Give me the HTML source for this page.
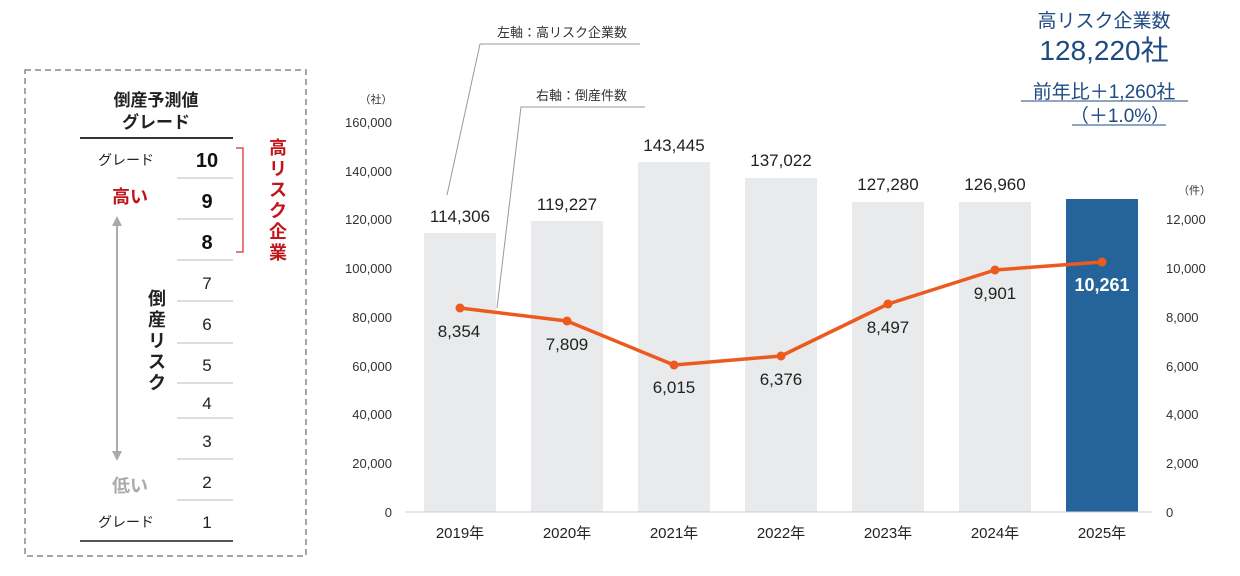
<!DOCTYPE html>
<html><head><meta charset="utf-8"><style>
html,body{margin:0;padding:0;background:#fff;}
svg{display:block;font-family:"Liberation Sans","Noto Sans CJK JP",sans-serif;}
</style></head><body>
<svg width="1240" height="576" viewBox="0 0 1240 576" xmlns="http://www.w3.org/2000/svg">
<!-- Left panel -->
<rect x="25" y="70" width="281" height="486" fill="none" stroke="#888" stroke-width="1.5" stroke-dasharray="6,4"/>
<text x="156" y="106" font-size="17" font-weight="bold" text-anchor="middle" fill="#222">倒産予測値</text>
<text x="156" y="128" font-size="17" font-weight="bold" text-anchor="middle" fill="#222">グレード</text>
<line x1="80" y1="138" x2="233" y2="138" stroke="#333" stroke-width="2"/>
<g stroke="#bbb" stroke-width="1">
<line x1="177" y1="178" x2="233" y2="178"/><line x1="177" y1="219" x2="233" y2="219"/>
<line x1="177" y1="260" x2="233" y2="260"/><line x1="177" y1="301" x2="233" y2="301"/>
<line x1="177" y1="343" x2="233" y2="343"/><line x1="177" y1="383" x2="233" y2="383"/>
<line x1="177" y1="418" x2="233" y2="418"/><line x1="177" y1="459" x2="233" y2="459"/>
<line x1="177" y1="500" x2="233" y2="500"/>
</g>
<line x1="80" y1="541" x2="233" y2="541" stroke="#555" stroke-width="2"/>
<g font-size="20" font-weight="bold" fill="#111" text-anchor="middle">
<text x="207" y="167">10</text><text x="207" y="208">9</text><text x="207" y="249">8</text>
</g>
<g font-size="17" fill="#222" text-anchor="middle">
<text x="207" y="289">7</text><text x="207" y="330">6</text><text x="207" y="371">5</text>
<text x="207" y="409">4</text><text x="207" y="447">3</text><text x="207" y="488">2</text><text x="207" y="528">1</text>
</g>
<text x="126" y="165" font-size="14" text-anchor="middle" fill="#222">グレード</text>
<text x="126" y="527" font-size="14" text-anchor="middle" fill="#222">グレード</text>
<text x="130" y="203" font-size="18" font-weight="bold" text-anchor="middle" fill="#c0161c">高い</text>
<text x="130" y="492" font-size="18" font-weight="bold" text-anchor="middle" fill="#aaa">低い</text>
<line x1="117" y1="226" x2="117" y2="452" stroke="#aaa" stroke-width="2"/>
<polygon points="117,216 112,226 122,226" fill="#aaa"/>
<polygon points="117,461 112,451 122,451" fill="#aaa"/>
<g font-size="18" font-weight="bold" fill="#222" text-anchor="middle">
<text x="157" y="305">倒</text><text x="157" y="326">産</text><text x="157" y="347">リ</text><text x="157" y="368">ス</text><text x="157" y="389">ク</text>
</g>
<polyline points="236,148 243,148 243,252 236,252" fill="none" stroke="#e05050" stroke-width="1.5"/>
<g font-size="18" font-weight="bold" fill="#c0161c" text-anchor="middle">
<text x="278" y="154">高</text><text x="278" y="175">リ</text><text x="278" y="196">ス</text><text x="278" y="217">ク</text><text x="278" y="238">企</text><text x="278" y="259">業</text>
</g>
<!-- Axes -->
<g font-size="13" fill="#333" text-anchor="end">
<text x="376" y="103" font-size="11" text-anchor="middle">（社）</text>
<text x="392" y="127">160,000</text><text x="392" y="176">140,000</text><text x="392" y="224">120,000</text>
<text x="392" y="273">100,000</text><text x="392" y="322">80,000</text><text x="392" y="371">60,000</text>
<text x="392" y="419">40,000</text><text x="392" y="468">20,000</text><text x="392" y="517">0</text>
</g>
<g font-size="13" fill="#333" text-anchor="start">
<text x="1178" y="194" font-size="11">（件）</text>
<text x="1166" y="224">12,000</text><text x="1166" y="273">10,000</text><text x="1166" y="322">8,000</text>
<text x="1166" y="371">6,000</text><text x="1166" y="419">4,000</text><text x="1166" y="468">2,000</text><text x="1166" y="517">0</text>
</g>
<!-- Bars -->
<g fill="#e8eaeb">
<rect x="424" y="233" width="72" height="279"/><rect x="531" y="221" width="72" height="291"/>
<rect x="638" y="162" width="72" height="350"/><rect x="745" y="178" width="72" height="334"/>
<rect x="852" y="202" width="72" height="310"/><rect x="959" y="202" width="72" height="310"/>
</g>
<rect x="1066" y="199" width="72" height="313" fill="#25649a"/>
<line x1="405" y1="512" x2="1152" y2="512" stroke="#ccc" stroke-width="1"/>
<g font-size="17" fill="#222" text-anchor="middle">
<text x="460" y="222">114,306</text><text x="567" y="210">119,227</text><text x="674" y="151">143,445</text>
<text x="781" y="166">137,022</text><text x="888" y="190">127,280</text><text x="995" y="190">126,960</text>
</g>
<g font-size="15" fill="#222" text-anchor="middle">
<text x="460" y="538">2019年</text><text x="567" y="538">2020年</text><text x="674" y="538">2021年</text>
<text x="781" y="538">2022年</text><text x="888" y="538">2023年</text><text x="995" y="538">2024年</text><text x="1102" y="538">2025年</text>
</g>
<!-- leader lines -->
<polyline points="447,195 480,44 640,44" fill="none" stroke="#999" stroke-width="1"/>
<polyline points="497,308 521,107 645,107" fill="none" stroke="#999" stroke-width="1"/>
<text x="497" y="37" font-size="13" fill="#333">左軸：高リスク企業数</text>
<text x="536" y="100" font-size="13" fill="#333">右軸：倒産件数</text>
<!-- line -->
<polyline points="460,308 567,321 674,365 781,356 888,304 995,270 1102,262" fill="none" stroke="#ec5a1f" stroke-width="3.5" stroke-linejoin="round"/>
<g fill="#ec5a1f">
<circle cx="460" cy="308" r="4.5"/><circle cx="567" cy="321" r="4.5"/><circle cx="674" cy="365" r="4.5"/>
<circle cx="781" cy="356" r="4.5"/><circle cx="888" cy="304" r="4.5"/><circle cx="995" cy="270" r="4.5"/><circle cx="1102" cy="262" r="4.5"/>
</g>
<g font-size="17" fill="#222" text-anchor="middle">
<text x="459" y="337">8,354</text><text x="567" y="350">7,809</text><text x="674" y="393">6,015</text>
<text x="781" y="385">6,376</text><text x="888" y="333">8,497</text><text x="995" y="299">9,901</text>
</g>
<text x="1102" y="291" font-size="18" font-weight="bold" fill="#fff" text-anchor="middle">10,261</text>
<!-- summary -->
<text x="1104" y="27" font-size="19" fill="#1e4a82" text-anchor="middle">高リスク企業数</text>
<text x="1104" y="60" font-size="28" fill="#1e4a82" text-anchor="middle">128,220社</text>
<text x="1104" y="98" font-size="19" fill="#1e4a82" text-anchor="middle">前年比＋1,260社</text>
<line x1="1021" y1="101" x2="1188" y2="101" stroke="#1e4a82" stroke-width="1"/>
<text x="1120" y="122" font-size="19" fill="#1e4a82" text-anchor="middle">（＋1.0%）</text>
<line x1="1072" y1="125" x2="1166" y2="125" stroke="#1e4a82" stroke-width="1"/>
</svg>
</body></html>
